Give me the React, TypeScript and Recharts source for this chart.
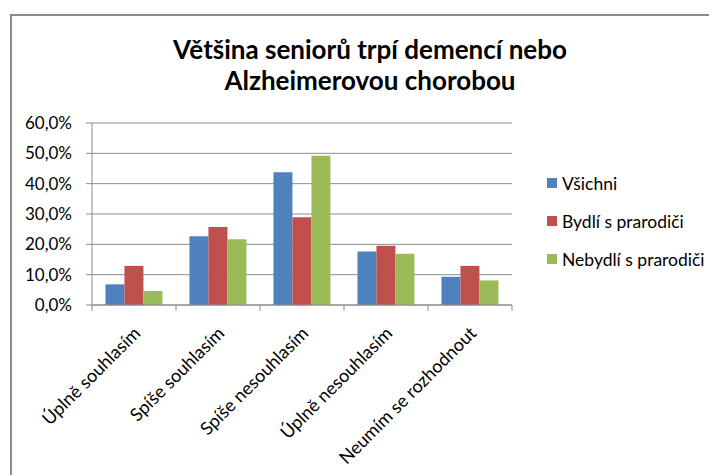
import React from "react";
import { BarChart, Bar, XAxis, YAxis, CartesianGrid } from "recharts";

const categories = [
  "Úplně souhlasím",
  "Spíše souhlasím",
  "Spíše nesouhlasím",
  "Úplně nesouhlasím",
  "Neumím se rozhodnout",
];
const vsichni = [0.068, 0.227, 0.438, 0.176, 0.093];
const bydli = [0.129, 0.257, 0.289, 0.195, 0.129];
const nebydli = [0.046, 0.217, 0.492, 0.169, 0.081];
const yTicks = [0, 0.1, 0.2, 0.3, 0.4, 0.5, 0.6];
const seriesNames = ["Všichni", "Bydlí s prarodiči", "Nebydlí s prarodiči"];
const seriesKeys = ["vsichni", "bydli", "nebydli"];
const seriesColors = ["#4F81BD", "#C0504D", "#9BBB59"];
const titleLines = ["Většina seniorů trpí demencí nebo", "Alzheimerovou chorobou"];

const data = categories.map((c, i) => ({
  name: c,
  vsichni: vsichni[i],
  bydli: bydli[i],
  nebydli: nebydli[i],
}));

const FONT = "Lato, 'Open Sans', sans-serif";
const CHART_W = 709;
const CHART_H = 467;
const MARGIN = { top: 115, right: 205, bottom: 0, left: 0 };
const Y_W = 84;
const PLOT_W = CHART_W - MARGIN.left - MARGIN.right - Y_W;
const BAND = PLOT_W / categories.length;
const AXIS_COLOR = "#8C8C8C";

const fmt = (v: number) => (v * 100).toFixed(1).replace(".", ",") + "%";

const XTick = (props: any) => {
  const { x, y, payload, index } = props;
  const left = x - BAND / 2;
  const ax = x + 3;
  const ay = y + 17;
  return (
    <g>
      <line x1={left} y1={y - 8} x2={left} y2={y - 2} stroke={AXIS_COLOR} />
      {index === categories.length - 1 && (
        <line x1={x + BAND / 2} y1={y - 8} x2={x + BAND / 2} y2={y - 2} stroke={AXIS_COLOR} />
      )}
      <text
        x={ax}
        y={ay}
        textAnchor="end"
        dy="0.35em"
        fontSize={18}
        fill="#000"
        fontFamily={FONT}
        transform={`rotate(-45, ${ax}, ${ay})`}
      >
        {payload.value}
      </text>
    </g>
  );
};

export default function App() {
  return (
    <div style={{ position: "relative", width: CHART_W, height: CHART_H, fontFamily: FONT }}>
      <div
        style={{
          position: "absolute",
          left: 2,
          top: 6,
          width: 720,
          height: 480,
          borderTop: "2px solid #8C8C8C",
          borderLeft: "2px solid #8C8C8C",
          boxSizing: "border-box",
        }}
      />
      <div
        style={{
          position: "absolute",
          left: 0,
          width: 724,
          top: 26,
          textAlign: "center",
          fontWeight: 700,
          fontSize: 26,
          lineHeight: "31px",
          color: "#000",
        }}
      >
        {titleLines.map((t) => (
          <div key={t}>{t}</div>
        ))}
      </div>
      <BarChart
        width={CHART_W}
        height={CHART_H}
        data={data}
        margin={MARGIN}
        barCategoryGap="16%"
        barGap={0}
      >
        <CartesianGrid vertical={false} stroke={AXIS_COLOR} />
        <XAxis
          dataKey="name"
          interval={0}
          height={170}
          tickLine={false}
          axisLine={{ stroke: AXIS_COLOR }}
          tick={<XTick />}
        />
        <YAxis
          width={Y_W}
          domain={[0, 0.6]}
          ticks={yTicks}
          tickFormatter={fmt}
          tickSize={6}
          tickMargin={14}
          axisLine={{ stroke: AXIS_COLOR }}
          tickLine={{ stroke: AXIS_COLOR }}
          tick={{ fontSize: 17, fill: "#000", fontFamily: FONT }}
        />
        {seriesKeys.map((k, i) => (
          <Bar key={k} dataKey={k} name={seriesNames[i]} fill={seriesColors[i]} isAnimationActive={false} />
        ))}
      </BarChart>
      <div style={{ position: "absolute", left: 539, top: 156 }}>
        {seriesNames.map((n, i) => (
          <div key={n} style={{ display: "flex", alignItems: "center", height: 38, fontSize: 17.5 }}>
            <span style={{ width: 10, height: 10, background: seriesColors[i], marginRight: 5 }} />
            <span>{n}</span>
          </div>
        ))}
      </div>
    </div>
  );
}
